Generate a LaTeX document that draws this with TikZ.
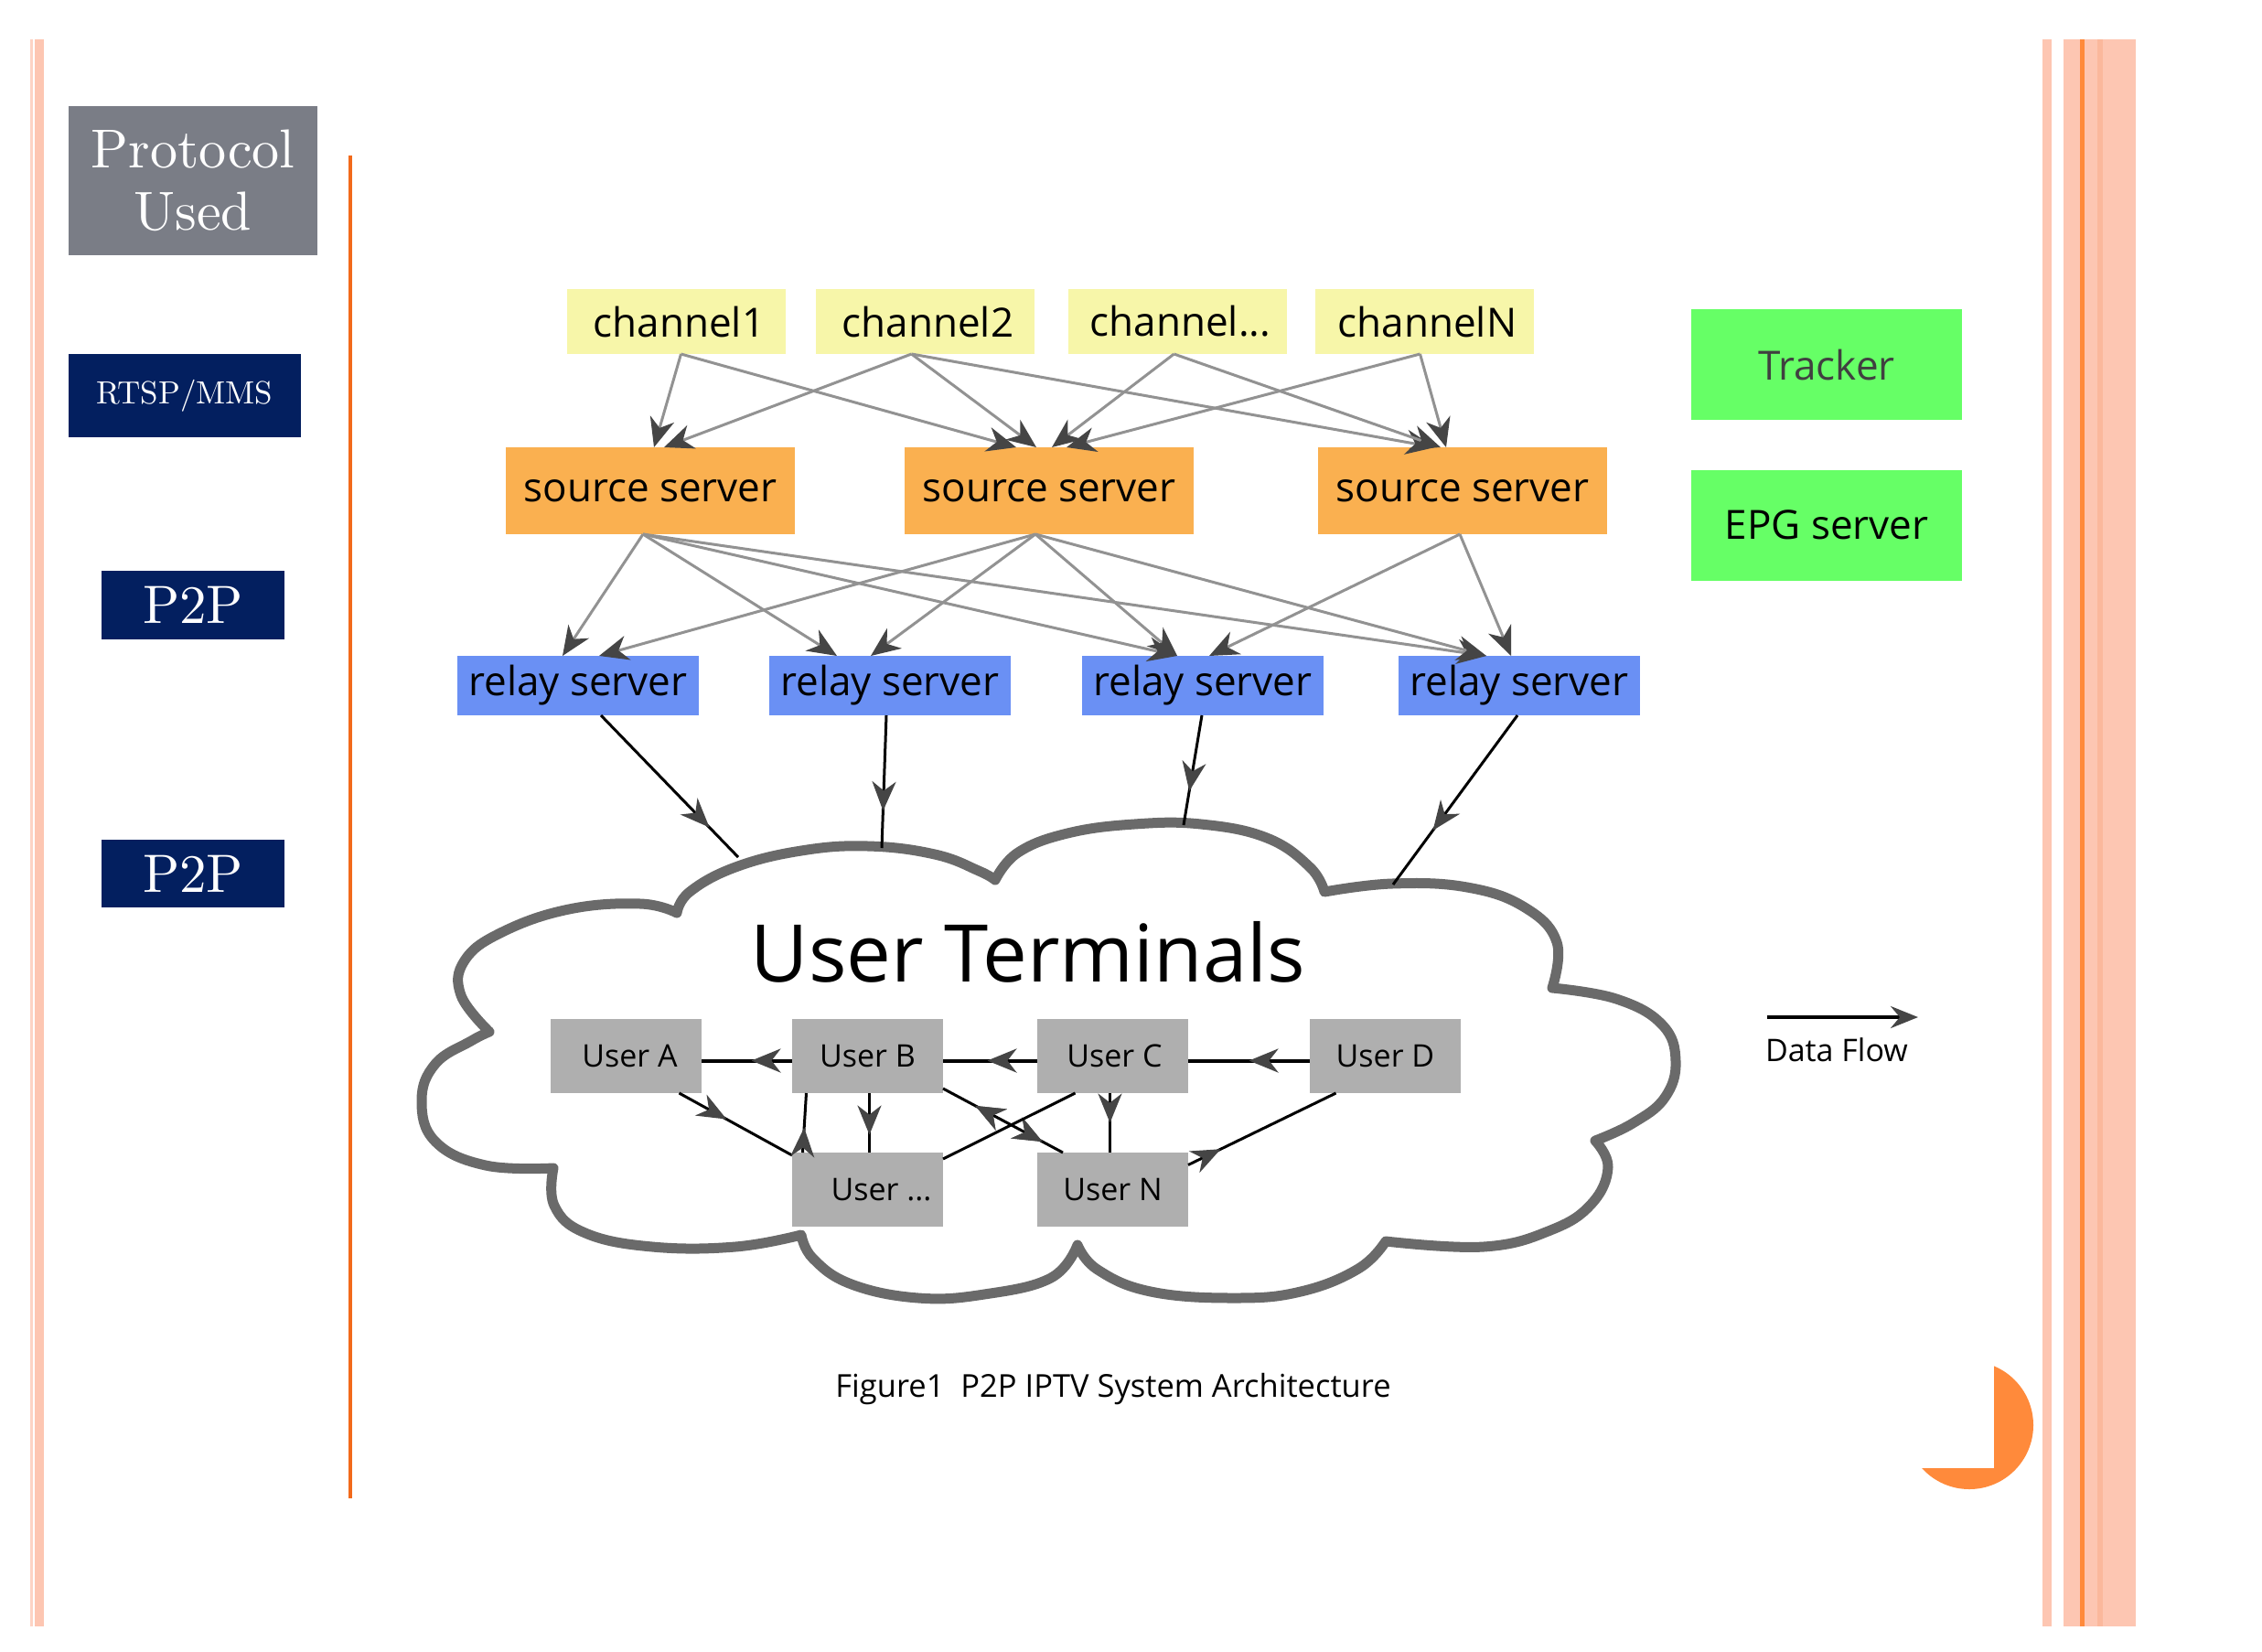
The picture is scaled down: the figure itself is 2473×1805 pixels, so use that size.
\documentclass[tikz,border=0pt]{standalone}
\usepackage{fontspec}
\newfontfamily\diag{Open Sans}
\newfontfamily\lmten{lmroman10-regular}[Extension=.otf]
\usetikzlibrary{arrows.meta,calc,decorations.markings}
\definecolor{stripe}{HTML}{FDC6B2}
\definecolor{stripelight}{HTML}{FDD3C4}
\definecolor{stripedark}{HTML}{FBB89C}
\definecolor{orangeline}{HTML}{FF8A3B}
\definecolor{vline}{HTML}{F26A1B}
\definecolor{navy}{HTML}{031F5F}
\definecolor{protogray}{HTML}{7A7D86}
\definecolor{chyellow}{HTML}{F7F6A9}
\definecolor{srcorange}{HTML}{FAB050}
\definecolor{relayblue}{HTML}{6A90F4}
\definecolor{trackgreen}{HTML}{66FF66}
\definecolor{usergray}{HTML}{AFAFAF}
\definecolor{cloudgray}{HTML}{6A6A6A}
\definecolor{linkgray}{HTML}{929292}
\definecolor{headgray}{HTML}{454545}
\definecolor{moon}{HTML}{FF8A3B}
\begin{document}
\begin{tikzpicture}[x=1pt,y=-1pt,
  dbox/.style={rectangle, inner sep=0pt, outer sep=0pt, text=black, font=\diag\fontsize{44}{50}\selectfont},
  chbox/.style={dbox, fill=chyellow, minimum width=239pt, minimum height=71pt},
  srcbox/.style={dbox, fill=srcorange, minimum width=316pt, minimum height=95pt},
  relaybox/.style={dbox, fill=relayblue, minimum width=264pt, minimum height=65pt},
  greenbox/.style={dbox, fill=trackgreen, minimum width=296pt, minimum height=121pt},
  userbox/.style={dbox, fill=usergray, minimum width=165pt, minimum height=81pt, font=\diag\fontsize{34}{40}\selectfont},
  navybox/.style={rectangle, inner sep=0pt, outer sep=0pt, fill=navy, text=white},
  feed/.style={draw=linkgray, line width=3pt, -{Stealth[length=32pt,width=27pt,inset=10pt,color=headgray,fill=headgray]}},
  flow/.style={draw=black, line width=3.5pt},
  midhead/.style={postaction=decorate, decoration={markings, mark=at position #1 with {\arrow{Stealth[length=32pt,width=26pt,inset=10pt,color=headgray,fill=headgray]}}}},
  midback/.style={postaction=decorate, decoration={markings, mark=at position #1 with {\arrowreversed{Stealth[length=32pt,width=26pt,inset=10pt,color=headgray,fill=headgray]}}}}
]
\useasboundingbox[fill=white] (0,0) rectangle (2473,1805);

% side stripes
\fill[stripelight] (33,43) rectangle (36,1778);
\fill[stripe] (38,43) rectangle (48,1778);
\fill[stripe] (2233,43) rectangle (2243,1778);
\fill[stripe] (2256,43) rectangle (2335,1778);
\fill[stripedark] (2293,43) rectangle (2299,1778);
\fill[orangeline] (2274,43) rectangle (2279,1778);
\fill[vline] (381,170) rectangle (385,1638);

% moon decoration
\fill[moon] (2153,1558) circle (70);
\fill[white] (2060,1470) rectangle (2180,1605);

% left panel
\node[rectangle, inner sep=0pt, fill=protogray, text=white, minimum width=272pt, minimum height=163pt, align=center, font=\lmten\fontsize{60}{68}\selectfont] (proto) at (211,197.5) {Protocol\\Used};
\node[navybox, minimum width=254pt, minimum height=91pt, font=\lmten\fontsize{35}{40}\selectfont] (rtsp) at (202,432.5) {RTSP/MMS};
\node[navybox, minimum width=200pt, minimum height=75pt, font=\lmten\fontsize{59}{64}\selectfont] (p2pa) at (211,661.5) {P2P};
\node[navybox, minimum width=200pt, minimum height=74pt, font=\lmten\fontsize{59}{64}\selectfont] (p2pb) at (211,955) {P2P};

% cloud
\draw[line width=11pt, draw=cloudgray, fill=white, line join=round]
  plot[smooth, tension=0.7] coordinates {(535,1128) (504,1088) (508,1050) (549,1019) (622,994) (700,988) (740,998)}
  -- plot[smooth, tension=0.7] coordinates {(740,998) (754,975) (804,948) (876,930) (949,925) (1022,934) (1070,952) (1088,962)}
  -- plot[smooth, tension=0.7] coordinates {(1088,962) (1113,932) (1167,911) (1240,901) (1313,901) (1385,916) (1432,948) (1448,975)}
  -- plot[smooth, tension=0.7] coordinates {(1448,975) (1522,966) (1604,970) (1667,992) (1702,1030) (1697,1080)}
  -- plot[smooth, tension=0.7] coordinates {(1697,1080) (1767,1092) (1817,1120) (1832,1160) (1820,1200) (1785,1228) (1744,1247)}
  -- plot[smooth, tension=0.7] coordinates {(1744,1247) (1758,1276) (1740,1316) (1695,1345) (1622,1363) (1515,1357)}
  -- plot[smooth, tension=0.7] coordinates {(1515,1357) (1485,1387) (1422,1412) (1349,1419) (1258,1412) (1200,1388) (1178,1361)}
  -- plot[smooth, tension=0.7] coordinates {(1178,1361) (1149,1397) (1076,1415) (1004,1419) (931,1404) (889,1376) (876,1350)}
  -- plot[smooth, tension=0.7] coordinates {(876,1350) (804,1363) (713,1363) (640,1348) (606,1318) (605,1277)}
  -- plot[smooth, tension=0.7] coordinates {(605,1277) (531,1274) (476,1248) (461,1203) (476,1163) (515,1138) (535,1128)}
  -- cycle;
\node[dbox, font=\diag\fontsize{87}{95}\selectfont, anchor=base] (ut) at (1124,1073) {User Terminals};

% channels
\node[chbox] (ch1) at (739.5,351.5) {\hspace*{6pt}channel1};
\node[chbox] (ch2) at (1011.5,351.5) {\hspace*{6pt}channel2};
\node[chbox] (ch3) at (1287.5,351.5) {\hspace*{6pt}channel...};
\node[chbox] (chN) at (1557.5,351.5) {\hspace*{6pt}channelN};
% source servers
\node[srcbox] (ss1) at (711,536.5) {source server};
\node[srcbox] (ss2) at (1147,536.5) {source server};
\node[srcbox] (ss3) at (1599,536.5) {source server};
% relay servers
\node[relaybox] (rs1) at (632,749.5) {relay server};
\node[relaybox] (rs2) at (973,749.5) {relay server};
\node[relaybox] (rs3) at (1315,749.5) {relay server};
\node[relaybox] (rs4) at (1661,749.5) {relay server};
% tracker, epg
\node[greenbox, text={black!75}] (trk) at (1997,398.5) {Tracker};
\node[greenbox] (epg) at (1997,574) {EPG server};
% users
\node[userbox] (uA) at (684.5,1154.5) {\hspace*{8pt}User A};
\node[userbox] (uB) at (948.5,1154.5) {User B};
\node[userbox] (uC) at (1216.5,1154.5) {\hspace*{4pt}User C};
\node[userbox] (uD) at (1514.5,1154.5) {User D};
\node[userbox] (uX) at (948.5,1300.5) {\hspace*{30pt}User ...};
\node[userbox] (uN) at (1216.5,1300.5) {User N};

% channel -> source
\draw[feed] ($(ch1.south)+(5,0)$) -- ($(ss1.north)+(4,0)$);
\draw[feed] ($(ch1.south)+(5,0)$) -- ($(ss2.north)+(-36,0)$);
\draw[feed] ($(ch2.south)+(-15,0)$) -- ($(ss1.north)+(15,0)$);
\draw[feed] ($(ch2.south)+(-15,0)$) -- ($(ss2.north)+(-14,0)$);
\draw[feed] ($(ch2.south)+(-15,0)$) -- ($(ss3.north)+(-30,0)$);
\draw[feed] ($(ch3.south)+(-4,0)$) -- ($(ss2.north)+(3,0)$);
\draw[feed] ($(ch3.south)+(-4,0)$) -- ($(ss3.north)+(-24,0)$);
\draw[feed] ($(chN.south)+(-5,0)$) -- ($(ss2.north)+(19,0)$);
\draw[feed] ($(chN.south)+(-5,0)$) -- ($(ss3.north)+(-18,0)$);
% source -> relay
\draw[feed] ($(ss1.south)+(-8,0)$) -- ($(rs1.north)+(-17,0)$);
\draw[feed] ($(ss1.south)+(-8,0)$) -- ($(rs2.north)+(-58,0)$);
\draw[feed] ($(ss1.south)+(-8,0)$) -- ($(rs3.north)+(-28,0)$);
\draw[feed] ($(ss1.south)+(-8,0)$) -- ($(rs4.north)+(-36,0)$);
\draw[feed] ($(ss2.south)+(-15,0)$) -- ($(rs1.north)+(23,0)$);
\draw[feed] ($(ss2.south)+(-15,0)$) -- ($(rs2.north)+(-21,0)$);
\draw[feed] ($(ss2.south)+(-15,0)$) -- ($(rs3.north)+(-28,0)$);
\draw[feed] ($(ss2.south)+(-15,0)$) -- ($(rs4.north)+(-36,0)$);
\draw[feed] ($(ss3.south)+(-3,0)$) -- ($(rs3.north)+(7,0)$);
\draw[feed] ($(ss3.south)+(-3,0)$) -- ($(rs4.north)+(-9,0)$);

% relay -> cloud
\coordinate (e1) at (807,937);
\coordinate (e2) at (964,927);
\coordinate (e3) at (1294,902);
\coordinate (e4) at (1523,967);
\draw[flow, line width=3pt, midhead=0.79] ($(rs1.south)+(25,0)$) -- (e1);
\draw[flow, line width=3pt, midhead=0.72] ($(rs2.south)+(-4,0)$) -- (e2);
\draw[flow, line width=3pt, midhead=0.69] ($(rs3.south)+(-1,0)$) -- (e3);
\draw[flow, line width=3pt, midhead=0.68] ($(rs4.south)+(-2,0)$) -- (e4);

% user links
\draw[flow, line width=4pt, midhead=0.5] ($(uD.west)+(0,5)$) -- ($(uC.east)+(0,5)$);
\draw[flow, line width=4pt, midhead=0.53] ($(uC.west)+(0,5)$) -- ($(uB.east)+(0,5)$);
\draw[flow, line width=4pt, midhead=0.45] ($(uB.west)+(0,5)$) -- ($(uA.east)+(0,5)$);
\draw[flow, line width=3pt, midhead=0.42] ($(uA.south)+(58,0)$) -- ($(uX.north west)+(0,3)$);
\draw[flow, line width=3pt, midhead=0.42] ($(uX.north)+(-71,0)$) -- ($(uB.south)+(-67,0)$);
\draw[flow, line width=3pt, midhead=0.7] ($(uB.south)+(2,0)$) -- ($(uX.north)+(2,0)$);
\draw[flow, line width=3pt, midback=0.27, midhead=0.83] ($(uB.south east)+(0,-5)$) -- ($(uN.north west)+(28,0)$);
\draw[flow, line width=3pt] ($(uC.south)+(-41,0)$) -- ($(uX.north east)+(0,7)$);
\draw[flow, line width=3pt, midhead=0.5] ($(uC.south)+(-3,0)$) -- ($(uN.north)+(-3,0)$);
\draw[flow, line width=3pt, midhead=0.22] ($(uN.east)+(0,-27)$) -- ($(uD.south)+(-54,0)$);

% legend
\coordinate (df1) at (1932,1112);
\coordinate (df2) at (2097,1112);
\draw[line width=4pt, -{Stealth[length=30pt,width=24pt,inset=10pt,color=headgray,fill=headgray]}] (df1) -- (df2);
\node[dbox, font=\diag\fontsize{34}{40}\selectfont, anchor=base west] (dflabel) at (1930,1160) {Data Flow};

% caption
\node[dbox, font=\diag\fontsize{34.5}{40}\selectfont, anchor=base] (cap) at (1217,1527) {Figure1\ \ P2P IPTV System Architecture};
\end{tikzpicture}
\end{document}
